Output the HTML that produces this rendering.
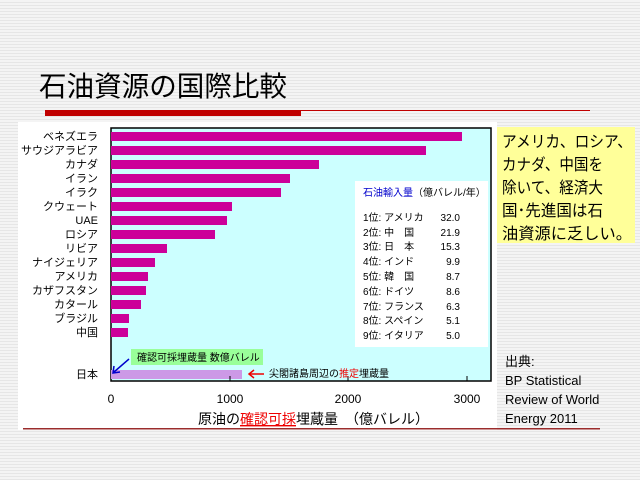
<!DOCTYPE html>
<html><head><meta charset="utf-8"><style>
body{margin:0;width:640px;height:480px;overflow:hidden;font-family:"Liberation Sans","Noto Sans CJK JP",sans-serif;
background:repeating-linear-gradient(#f4f4f4 0 2px,#e6e6e6 2px 3px);}
</style></head><body>
<svg width="640" height="480" xmlns="http://www.w3.org/2000/svg" style="position:absolute;left:0;top:0" font-family="Liberation Sans, Noto Sans CJK JP, sans-serif">
<text x="39" y="96" font-size="28" fill="#000" textLength="248" lengthAdjust="spacingAndGlyphs">石油資源の国際比較</text>
<rect x="45" y="110" width="256" height="6" fill="#c00000"/>
<rect x="300" y="110" width="290" height="1" fill="#c00000"/>
<rect x="18" y="122" width="479" height="308" fill="#fff"/>
<rect x="23" y="428" width="577" height="1.5" fill="#9b2c2c"/>
<rect x="111" y="128" width="380" height="253" fill="#ccffff" stroke="#000" stroke-width="1.5"/>
<g fill="#cc0099">
<rect x="111" y="132" width="351" height="9"/>
<rect x="111" y="146" width="315" height="9"/>
<rect x="111" y="160" width="208" height="9"/>
<rect x="111" y="174" width="179" height="9"/>
<rect x="111" y="188" width="170" height="9"/>
<rect x="111" y="202" width="121" height="9"/>
<rect x="111" y="216" width="116" height="9"/>
<rect x="111" y="230" width="104" height="9"/>
<rect x="111" y="244" width="56" height="9"/>
<rect x="111" y="258" width="44" height="9"/>
<rect x="111" y="272" width="37" height="9"/>
<rect x="111" y="286" width="35" height="9"/>
<rect x="111" y="300" width="30" height="9"/>
<rect x="111" y="314" width="18" height="9"/>
<rect x="111" y="328" width="17" height="9"/>
</g>
<rect x="111" y="370" width="131" height="9" fill="#cc99e6"/>
<g font-size="11" text-anchor="end" fill="#000">
<text x="98" y="140">ベネズエラ</text><text x="98" y="154">サウジアラビア</text><text x="98" y="168">カナダ</text>
<text x="98" y="182">イラン</text><text x="98" y="196">イラク</text><text x="98" y="210">クウェート</text>
<text x="98" y="224">UAE</text><text x="98" y="238">ロシア</text><text x="98" y="252">リビア</text>
<text x="98" y="266">ナイジェリア</text><text x="98" y="280">アメリカ</text><text x="98" y="294">カザフスタン</text>
<text x="98" y="308">カタール</text><text x="98" y="322">ブラジル</text><text x="98" y="336">中国</text>
<text x="98" y="378">日本</text>
</g>
<g stroke="#000"><line x1="230" y1="376" x2="230" y2="381"/><line x1="348" y1="376" x2="348" y2="381"/><line x1="467" y1="376" x2="467" y2="381"/></g>
<g font-size="12" text-anchor="middle"><text x="111" y="403">0</text><text x="230" y="403">1000</text><text x="348" y="403">2000</text><text x="467" y="403">3000</text></g>
<text x="198" y="424" font-size="14">原油の<tspan fill="#e00" text-decoration="underline">確認可採</tspan>埋蔵量　（億バレル）</text>
<rect x="131" y="349" width="132" height="16" fill="#99ff99"/>
<text x="137" y="361" font-size="10">確認可採埋蔵量 数億バレル</text>
<line x1="129" y1="359" x2="114" y2="372" stroke="#0000cc" stroke-width="1.5"/>
<polyline points="114,366 113,373 120,372" fill="none" stroke="#0000cc" stroke-width="1.5"/>
<line x1="250" y1="374" x2="264" y2="374" stroke="#e00" stroke-width="1.5"/>
<polyline points="254,370 249,374 254,378" fill="none" stroke="#e00" stroke-width="1.5"/>
<text x="269" y="377" font-size="10">尖閣諸島周辺の<tspan fill="#e00">推定</tspan>埋蔵量</text>
<rect x="355" y="181" width="133" height="166" fill="#fff"/>
<text x="363" y="196" font-size="10"><tspan fill="#0000cc">石油輸入量</tspan>（億バレル/年）</text>
<g font-size="10">
<text x="363" y="221">1位: アメリカ</text><text x="460" y="221" text-anchor="end">32.0</text>
<text x="363" y="236">2位: 中　国</text><text x="460" y="236" text-anchor="end">21.9</text>
<text x="363" y="250">3位: 日　本</text><text x="460" y="250" text-anchor="end">15.3</text>
<text x="363" y="265">4位: インド</text><text x="460" y="265" text-anchor="end">9.9</text>
<text x="363" y="280">5位: 韓　国</text><text x="460" y="280" text-anchor="end">8.7</text>
<text x="363" y="295">6位: ドイツ</text><text x="460" y="295" text-anchor="end">8.6</text>
<text x="363" y="310">7位: フランス</text><text x="460" y="310" text-anchor="end">6.3</text>
<text x="363" y="324">8位: スペイン</text><text x="460" y="324" text-anchor="end">5.1</text>
<text x="363" y="339">9位: イタリア</text><text x="460" y="339" text-anchor="end">5.0</text>
</g>
<rect x="497" y="127" width="138" height="116" fill="#ffff99"/>
<g font-size="16">
<text x="502" y="147" textLength="130" lengthAdjust="spacingAndGlyphs">アメリカ、ロシア、</text>
<text x="502" y="170" textLength="101" lengthAdjust="spacingAndGlyphs">カナダ、中国を</text>
<text x="502" y="193" textLength="101" lengthAdjust="spacingAndGlyphs">除いて、経済大</text>
<text x="502" y="216" textLength="101" lengthAdjust="spacingAndGlyphs">国･先進国は石</text>
<text x="502" y="239" textLength="130" lengthAdjust="spacingAndGlyphs">油資源に乏しい。</text></g>
<g font-size="13"><text x="505" y="366">出典:</text><text x="505" y="385">BP Statistical</text><text x="505" y="404">Review of World</text><text x="505" y="423">Energy  2011</text></g>
</svg>
</body></html>
